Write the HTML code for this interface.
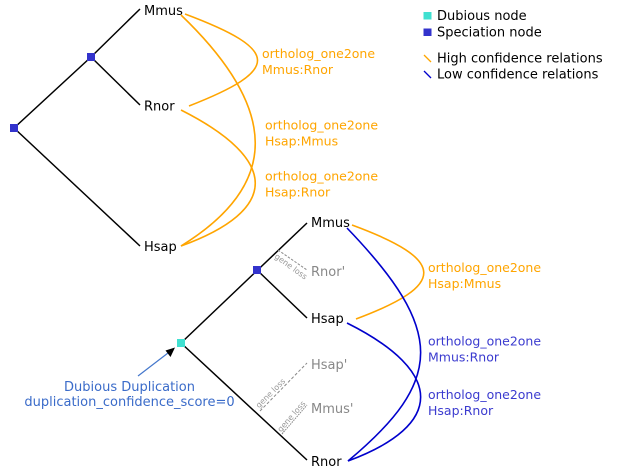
<!DOCTYPE html>
<html><head><meta charset="utf-8"><style>
html,body{margin:0;padding:0;background:#fff;}
svg{display:block;}
text{font-family:"DejaVu Sans","Liberation Sans",sans-serif;}
</style></head><body>
<svg width="618" height="470" viewBox="0 0 618 470" xmlns="http://www.w3.org/2000/svg">
<!-- top tree -->
<g stroke="#000" stroke-width="1.5" fill="none">
<line x1="14" y1="128" x2="91" y2="57"/>
<line x1="91" y1="57" x2="140" y2="9"/>
<line x1="91" y1="57" x2="140" y2="105"/>
<line x1="14" y1="128" x2="140" y2="246"/>
</g>
<rect x="10" y="124" width="8" height="8" fill="#3333cc"/>
<rect x="87" y="53" width="8" height="8" fill="#3333cc"/>
<g font-size="13" fill="#000">
<text x="144" y="15">Mmus</text>
<text x="144" y="110.5">Rnor</text>
<text x="144" y="251">Hsap</text>
</g>
<!-- top curves -->
<g stroke="#ffa500" stroke-width="1.6" fill="none">
<path d="M185,14 C281,50 281,70 189,106"/>
<path d="M181,15 C280,110 280,185 181,246"/>
<path d="M181,110 C280,160 280,210 181,246"/>
</g>
<g font-size="12.5" fill="#ffa500">
<text x="262" y="58">ortholog_one2one</text>
<text x="262" y="74">Mmus:Rnor</text>
<text x="265" y="129.5">ortholog_one2one</text>
<text x="265" y="145.5">Hsap:Mmus</text>
<text x="265" y="180.5">ortholog_one2one</text>
<text x="265" y="196.5">Hsap:Rnor</text>
</g>
<!-- legend -->
<rect x="423.5" y="12" width="8" height="7.5" fill="#40e0d0"/>
<rect x="423.5" y="28.5" width="8" height="7.5" fill="#3333cc"/>
<line x1="424" y1="55" x2="431" y2="62" stroke="#ffa500" stroke-width="1.3"/>
<line x1="424" y1="71" x2="431" y2="78" stroke="#0000cc" stroke-width="1.3"/>
<g font-size="13" fill="#000">
<text x="437" y="20">Dubious node</text>
<text x="437" y="36.5">Speciation node</text>
<text x="437" y="62.5">High confidence relations</text>
<text x="437" y="78.5">Low confidence relations</text>
</g>
<!-- bottom tree -->
<g stroke="#000" stroke-width="1.5" fill="none">
<line x1="181" y1="343" x2="307" y2="223"/>
<line x1="257" y1="270" x2="307" y2="318"/>
<line x1="181" y1="343" x2="307" y2="460"/>
</g>
<g stroke="#888" stroke-width="1" fill="none">
<line x1="278" y1="250" x2="307" y2="270" stroke-dasharray="2.5,1.5"/>
<line x1="260" y1="411" x2="307" y2="363" stroke-dasharray="3,2"/>
<line x1="282" y1="434" x2="307" y2="405" stroke-dasharray="1.5,1"/>
</g>
<g font-size="8" fill="#999">
<text transform="translate(274,257.5) rotate(36)">gene loss</text>
<text transform="translate(259,408.5) rotate(-45)">gene loss</text>
<text transform="translate(281,432.5) rotate(-49)">gene loss</text>
</g>
<rect x="253" y="266" width="8" height="8" fill="#3333cc"/>
<rect x="177" y="339" width="8" height="8" fill="#40e0d0"/>
<g font-size="13" fill="#000">
<text x="311" y="227">Mmus</text>
<text x="311" y="323">Hsap</text>
<text x="311" y="466">Rnor</text>
</g>
<g font-size="13" fill="#888">
<text x="311" y="276">Rnor'</text>
<text x="311" y="369">Hsap'</text>
<text x="311" y="413">Mmus'</text>
</g>
<!-- bottom curves -->
<path d="M352,225 C447,260 447,285 356,319" stroke="#ffa500" stroke-width="1.6" fill="none"/>
<g stroke="#0000cc" stroke-width="1.6" fill="none">
<path d="M347,228 C445,330 445,380 348,461"/>
<path d="M347,323 C445,372 445,425 348,461"/>
</g>
<g font-size="12.5">
<text x="428" y="272" fill="#ffa500">ortholog_one2one</text>
<text x="428" y="288" fill="#ffa500">Hsap:Mmus</text>
<text x="428" y="345.5" fill="#3b3bcf">ortholog_one2one</text>
<text x="428" y="361.5" fill="#3b3bcf">Mmus:Rnor</text>
<text x="428" y="399" fill="#3b3bcf">ortholog_one2one</text>
<text x="428" y="415" fill="#3b3bcf">Hsap:Rnor</text>
</g>
<!-- annotation -->
<line x1="138" y1="376" x2="168" y2="353" stroke="#4477cc" stroke-width="1.2"/>
<polygon points="175,347.5 165.5,350.5 170.5,357" fill="#000"/>
<g font-size="13" fill="#3a6bc9" text-anchor="middle">
<text x="129.5" y="391">Dubious Duplication</text>
<text x="129.5" y="406">duplication_confidence_score=0</text>
</g>
</svg>
</body></html>
